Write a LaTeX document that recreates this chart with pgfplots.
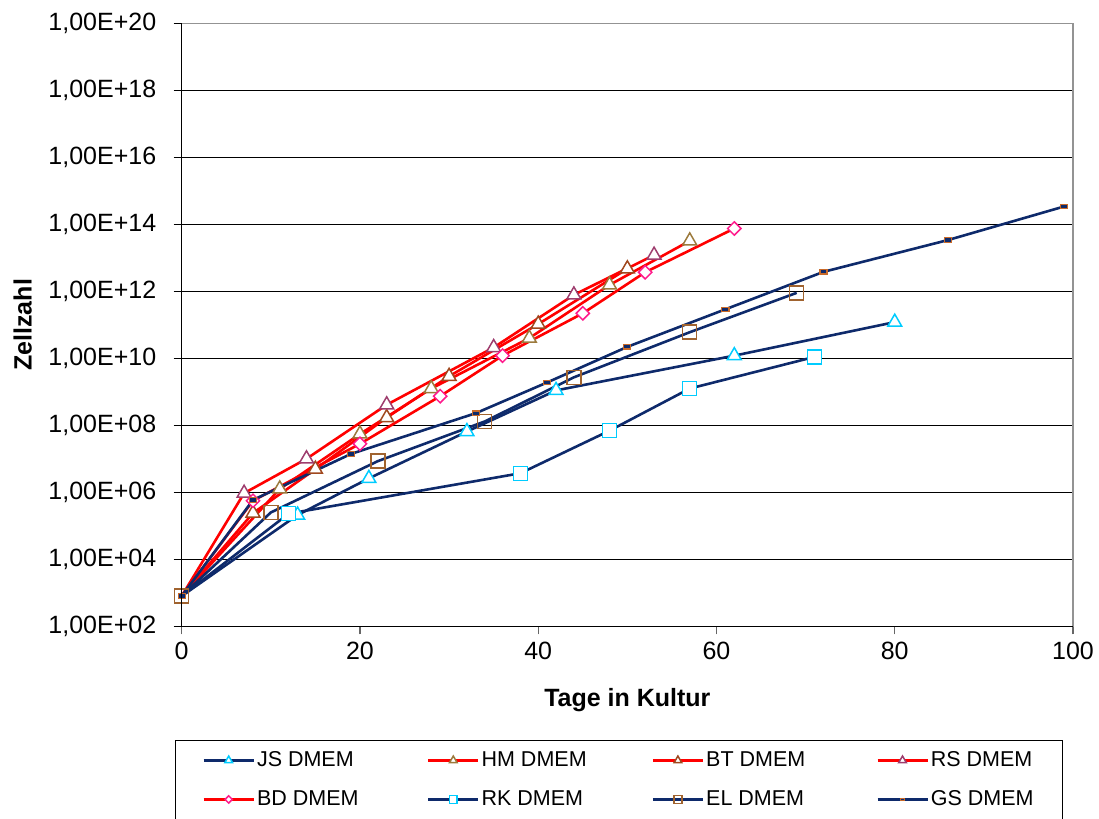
\documentclass[border=0pt]{standalone}
\usepackage{pgfplots}
\pgfplotsset{compat=1.18}
\usepackage{fontspec}
\setmainfont{Liberation Sans}
\definecolor{navy}{HTML}{0E2A6B}
\definecolor{cyanm}{HTML}{00CCFF}
\definecolor{hmc}{HTML}{9C7A3C}
\definecolor{btc}{HTML}{A0481E}
\definecolor{rsc}{HTML}{9E3D6E}
\definecolor{bdc}{HTML}{FF1A8C}
\definecolor{elc}{HTML}{A0632F}
\definecolor{gsc}{HTML}{C86A2A}
\pgfplotsset{
  navyline/.style={color=navy, line width=2.6bp},
  redline/.style={color=red, line width=2.6bp},
}
\begin{document}
\begin{tikzpicture}
\useasboundingbox (0,0) rectangle (1099bp,819bp);
\begin{axis}[
  at={(181.7bp,192.7bp)}, anchor=south west,
  scale only axis, width=891.3bp, height=603bp,
  xmin=0, xmax=100, ymode=log, ymin=1e2, ymax=1e20,
  xtick={0,20,40,60,80,100},
  ytick={1e2,1e4,1e6,1e8,1e10,1e12,1e14,1e16,1e18,1e20},
  yticklabels={{1,00E+02},{1,00E+04},{1,00E+06},{1,00E+08},{1,00E+10},{1,00E+12},{1,00E+14},{1,00E+16},{1,00E+18},{1,00E+20}},
  xtick pos=bottom, ytick pos=left,
  yminorticks=false,
  ymajorgrids, major grid style={black, line width=1bp},
  tick align=outside, major tick length=8bp,
  xtick style={gray!80!black, line width=1.2bp},
  ytick style={black, line width=1bp},
  /pgf/number format/assume math mode=true,
  x tick label style={font=\fontsize{25bp}{30bp}\selectfont, yshift=-4bp},
  y tick label style={font=\fontsize{25bp}{30bp}\selectfont, xshift=-14bp},
  axis line style={draw=gray!85, line width=1.5bp},
  xlabel={Tage in Kultur}, ylabel={Zellzahl},
  xlabel style={font=\bfseries\fontsize{25bp}{30bp}\selectfont, at={(axis description cs:0.5,-0.1222)}, anchor=center},
  ylabel style={font=\bfseries\fontsize{25bp}{30bp}\selectfont, at={(axis description cs:-0.1785,0.5)}, anchor=center},
  clip=false,
  extra description/.code={\draw[black, line width=1.3bp] (0,1)--(0,0)--(1,0);},
  legend columns=4,
  legend cell align=left,
  legend style={at={(-0.0075,-0.1886)}, anchor=north west, draw=black, line width=0.8bp,
    font=\fontsize{21.5bp}{25bp}\selectfont, inner xsep=27bp, inner ysep=10bp,
    /tikz/column sep=0pt, /tikz/row sep=19bp,
    nodes={inner xsep=2bp, inner ysep=0pt, text height=16bp, text depth=4bp}},
  legend image code/.code={\draw[mark repeat=2,mark phase=2] plot coordinates {(0bp,0bp) (25bp,0bp) (50bp,0bp)};},
  legend image post style={every mark/.append style={scale=0.55}},
]
% JS DMEM
\addplot[navyline, mark=triangle*, mark size=8bp, mark phase=2, mark options={solid, draw=cyanm, fill=white, line width=1.5bp}] coordinates {
(0,800) (13,2.1e5) (21,2.6e6) (32,6.5e7) (42,1.1e9) (62,1.2e10) (80,1.2e11)};
\addlegendentry{\makebox[168bp][l]{JS DMEM}}
% HM DMEM
\addplot[redline, mark=triangle*, mark size=8bp, mark phase=2, mark options={solid, draw=hmc, fill=white, line width=1.5bp}] coordinates {
(0,800) (11,1.26e6) (20,5.5e7) (28,1.25e9) (39,4e10) (48,1.55e12) (57,3.2e13)};
\addlegendentry{\makebox[168bp][l]{HM DMEM}}
% BT DMEM
\addplot[redline, mark=triangle*, mark size=8bp, mark phase=2, mark options={solid, draw=btc, fill=white, line width=1.5bp}] coordinates {
(0,800) (8,2.4e5) (15,4.9e6) (23,1.7e8) (30,2.9e9) (40,1.05e11) (50,4.7e12)};
\addlegendentry{\makebox[168bp][l]{BT DMEM}}
% RS DMEM
\addplot[redline, mark=triangle*, mark size=8bp, mark phase=2, mark options={solid, draw=rsc, fill=white, line width=1.5bp}] coordinates {
(0,800) (7,9.4e5) (14,1.0e7) (23,4.1e8) (35,2.1e10) (44,7.8e11) (53,1.2e13)};
\addlegendentry{RS DMEM}
% BD DMEM
\addplot[redline, mark=square*, mark size=4.7bp, mark phase=2, mark options={solid, rotate=45, draw=bdc, fill=white, line width=1.5bp}] coordinates {
(0,800) (8,5.6e5) (20,2.8e7) (29,7.4e8) (36,1.2e10) (45,2.2e11) (52,3.7e12) (62,7.5e13)};
\addlegendentry{\makebox[168bp][l]{BD DMEM}}
% RK DMEM
\addplot[navyline, mark=square*, mark size=7bp, mark phase=2, mark options={solid, draw=cyanm, fill=white, line width=1.5bp}] coordinates {
(0,800) (12,2.3e5) (38,3.7e6) (48,6.9e7) (57,1.25e9) (71,1.1e10)};
\addlegendentry{\makebox[168bp][l]{RK DMEM}}
% EL DMEM
\addplot[navyline, mark=square, mark size=7bp, mark options={solid, draw=elc, line width=1.5bp}] coordinates {
(0,800) (10,2.5e5) (22,8.5e6) (34,1.3e8) (44,2.7e9) (57,6e10) (69,9e11)};
\addlegendentry{\makebox[168bp][l]{EL DMEM}}
% GS DMEM
\addplot[navyline, mark=square*, mark size=2.2bp, mark options={solid, xscale=1.6, draw=gsc, fill=navy, line width=1.2bp}] coordinates {
(0,800) (8,5.9e5) (19,1.4e7) (33,2.3e8) (41,1.9e9) (50,2.2e10) (61,2.9e11) (72,3.8e12) (86,3.4e13) (99,3.4e14)};
\addlegendentry{GS DMEM}
\end{axis}
\end{tikzpicture}
\end{document}
